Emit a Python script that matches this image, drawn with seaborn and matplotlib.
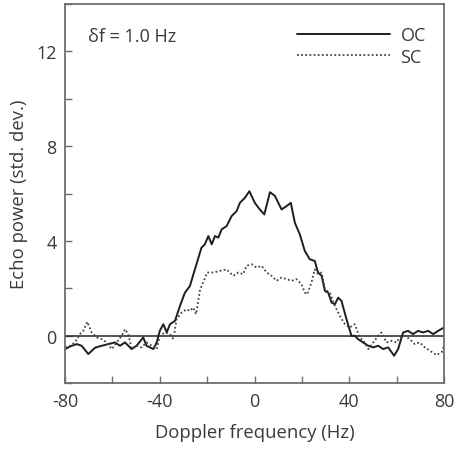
import matplotlib
matplotlib.use("Agg")
import matplotlib.pyplot as plt
import seaborn as sns
import pandas as pd

# OC (solid) spectrum
oc_freq = [-80, -77.2, -75, -73, -70.2, -67.3, -64.5, -61.7, -59, -56.8, -54.7, -51.9, -49.8,
           -47, -45.6, -42.7, -41.3, -40, -38.5, -37.1, -35.7, -33.6, -31.5, -29.4, -27.3,
           -25.2, -22.4, -21, -19.5, -18.1, -16.7, -15.3, -13.9, -11.8, -9.7, -7.6, -6.2,
           -4.1, -2.2, 0.1, 2.2, 4.1, 6.5, 8.6, 11.4, 13.5, 15.3, 17, 19.1, 21.2, 23.3, 25.4,
           26.8, 28.3, 29.7, 31.1, 32.5, 33.9, 35.3, 36.7, 38.8, 40.9, 42.3, 43.7, 45.8, 48,
           50.1, 52.2, 54.3, 56.4, 58.9, 60.6, 62.7, 64.8, 66.9, 69, 71.1, 73.3, 75.4, 77.5, 80]
oc_power = [-0.56, -0.42, -0.35, -0.42, -0.77, -0.5, -0.42, -0.35, -0.28, -0.42, -0.28, -0.56,
            -0.42, -0.07, -0.42, -0.56, -0.28, 0.21, 0.49, 0.14, 0.49, 0.63, 1.26, 1.82, 2.1,
            2.8, 3.72, 3.86, 4.21, 3.86, 4.21, 4.14, 4.49, 4.63, 5.05, 5.26, 5.61, 5.82, 6.1,
            5.61, 5.33, 5.12, 6.06, 5.9, 5.33, 5.47, 5.61, 4.77, 4.28, 3.58, 3.23, 3.16, 2.67,
            2.53, 1.89, 1.82, 1.4, 1.33, 1.61, 1.47, 0.7, 0.0, 0.0, -0.14, -0.28, -0.42, -0.49,
            -0.42, -0.56, -0.49, -0.84, -0.56, 0.14, 0.21, 0.07, 0.21, 0.14, 0.21, 0.07, 0.21, 0.35]

# SC (dotted) spectrum
sc_freq = [-80, -77.9, -75.8, -73.7, -72.3, -70.6, -68.8, -66.6, -64.5, -62.4, -60.3, -58.2,
           -56.1, -54.7, -53.3, -51.9, -49.8, -47.7, -45.6, -43.4, -41.3, -40, -37.8, -35.7,
           -34.3, -32.9, -30.8, -28.7, -27.3, -25.9, -24.7, -23, -21.4, -20, -17.4, -14.6,
           -11.8, -9, -6.9, -4.8, -3.4, -1.3, 0.8, 3, 5.1, 7.2, 9.3, 11.4, 13.5, 15.6, 17.7,
           19.8, 21.2, 22.2, 24, 25.4, 26.8, 28.3, 29.7, 31.8, 33.9, 36, 38.1, 40.2, 42.3,
           44.4, 46.5, 48, 50.1, 52.2, 53.6, 55.7, 57.8, 59.9, 61.3, 63.4, 65.5, 67.6, 69.7,
           71.9, 74, 76.8, 78.9, 80]
sc_power = [-0.49, -0.42, -0.28, 0.07, 0.21, 0.59, 0.14, -0.07, -0.14, -0.28, -0.56, -0.28,
            0.0, 0.28, 0.07, -0.56, -0.42, -0.49, -0.28, -0.42, -0.56, 0.0, 0.14, 0.07, -0.14,
            0.7, 0.98, 1.12, 1.05, 1.19, 0.91, 1.96, 2.32, 2.67, 2.67, 2.74, 2.8, 2.53, 2.67,
            2.6, 2.95, 3.02, 2.88, 2.95, 2.67, 2.53, 2.32, 2.46, 2.39, 2.32, 2.39, 2.18, 1.82,
            1.75, 2.25, 2.8, 2.6, 2.67, 1.96, 1.82, 1.26, 0.84, 0.49, 0.35, 0.49, -0.07, -0.28,
            -0.56, -0.28, 0.0, 0.14, -0.28, -0.21, -0.28, -0.07, 0.0, -0.14, -0.35, -0.28,
            -0.49, -0.63, -0.81, -0.7, -0.42]

x_ticks = [-80, -40, 0, 40, 80]
y_ticks = [0, 4, 8, 12]

sns.set_style("ticks")
plt.rcParams['font.family'] = ['Open Sans', 'DejaVu Sans']
plt.rcParams['axes.unicode_minus'] = False
text_col = "#3a3a3a"
spine_col = "#6e6e6e"
fs = 13

oc = pd.DataFrame({"freq": oc_freq, "power": oc_power})
sc = pd.DataFrame({"freq": sc_freq, "power": sc_power})

fig = plt.figure(figsize=(4.55, 4.52), dpi=100)
ax = fig.add_axes([0.143, 0.150, 0.833, 0.839])

ax.axhline(0, color="#222222", lw=1.1, zorder=1)
sns.lineplot(data=oc, x="freq", y="power", ax=ax, color="#1e1e1e", lw=1.4, label="OC")
sns.lineplot(data=sc, x="freq", y="power", ax=ax, color="#444444", lw=1.3,
             linestyle=(0, (1, 1.3)), label="SC")

ax.set_xlim(-80, 80)
ax.set_ylim(-2, 14)
ax.set_xticks(x_ticks)
ax.set_xticks(range(-80, 81, 20), minor=True)
ax.set_yticks(y_ticks)
ax.set_yticks(range(-2, 15, 2), minor=True)
ax.tick_params(which="both", direction="in", length=5, width=1, color=spine_col,
               labelsize=fs, labelcolor=text_col, pad=6)
for s in ax.spines.values():
    s.set_color(spine_col)
    s.set_linewidth(1.3)

ax.set_xlabel("Doppler frequency (Hz)", fontsize=fs + 0.3, color=text_col, labelpad=10)
ax.set_ylabel("Echo power (std. dev.)", fontsize=fs + 0.3, color=text_col, labelpad=6)

ax.text(0.06, 0.915, "δf = 1.0 Hz", transform=ax.transAxes, fontsize=fs, color=text_col,
        va="center")
leg = ax.legend(loc="upper right", bbox_to_anchor=(0.985, 0.975), frameon=False,
                handlelength=5.2, handletextpad=0.55, labelspacing=0.2, fontsize=fs,
                labelcolor=text_col, borderaxespad=0.3)

fig.savefig("out.png", dpi=100)
